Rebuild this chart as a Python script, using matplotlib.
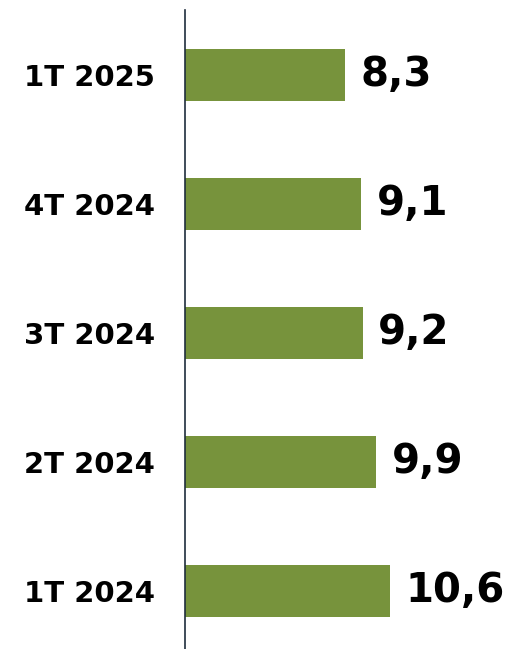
import matplotlib.pyplot as plt

quarters = ["1T 2024", "2T 2024", "3T 2024", "4T 2024", "1T 2025"]
values = [10.6, 9.9, 9.2, 9.1, 8.3]
value_labels = ["10,6", "9,9", "9,2", "9,1", "8,3"]

fig = plt.figure(figsize=(5.05, 6.49), dpi=100)
ax = fig.add_axes([185 / 505, 0, 320 / 505, 639 / 649])

pos = range(len(quarters))
ax.barh(pos, values, height=0.4, color="#77933C")

for p, v, lab in zip(pos, values, value_labels):
    ax.text(v + 0.8, p, lab, va="center", ha="left",
            fontsize=29, fontweight="bold", color="black")

ax.set_yticks(list(pos))
ax.set_yticklabels(quarters, fontsize=21, fontweight="bold")
ax.tick_params(axis="y", length=0, pad=21.5)
ax.set_xticks([])
ax.set_xlim(0, 16.55)
ax.set_ylim(-0.45, 4.504)

for s in ["top", "right", "bottom"]:
    ax.spines[s].set_visible(False)
ax.spines["left"].set_color("#1F2D3D")
ax.spines["left"].set_linewidth(1.2)

fig.savefig("out.png", dpi=100)
